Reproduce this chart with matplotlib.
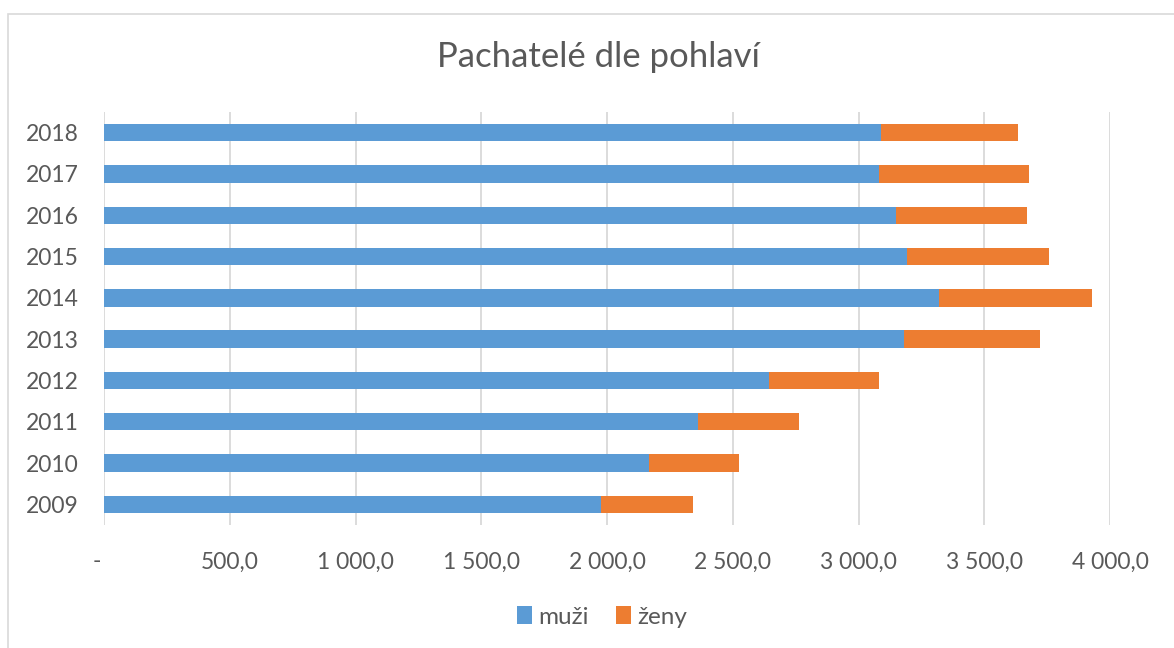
import matplotlib
matplotlib.use("Agg")
import matplotlib.pyplot as plt
from matplotlib.patches import Rectangle
from matplotlib.ticker import FuncFormatter
from matplotlib.transforms import ScaledTranslation

years = ["2009", "2010", "2011", "2012", "2013", "2014", "2015", "2016", "2017", "2018"]
muzi = [1975, 2166, 2360, 2645, 3180, 3319, 3191, 3150, 3083, 3091]
zeny = [366, 360, 402, 438, 540, 609, 568, 518, 593, 543]
title = "Pachatelé dle pohlaví"
xticks = [0, 500, 1000, 1500, 2000, 2500, 3000, 3500, 4000]

plt.rcParams['font.family'] = ['Lato', 'DejaVu Sans']
txt = '#595959'
blue = '#5B9BD5'
orange = '#ED7D31'

fig = plt.figure(figsize=(11.74, 6.48), dpi=100)
ax = fig.add_axes([104/1174, 1-525/648, (1110-104)/1174, (525-112)/648])

y = list(range(len(years)))
ax.barh(y, muzi, height=0.42, color=blue, label='muži', zorder=3)
ax.barh(y, zeny, left=muzi, height=0.42, color=orange, label='ženy', zorder=3)

ax.set_xlim(0, 4000)
ax.set_ylim(-0.5, len(years) - 0.5)
ax.set_xticks(xticks)

def fmt(v, pos):
    if v == 0:
        return '-'
    return f"{v:,.1f}".replace(',', ' ').replace('.', ',')

ax.xaxis.set_major_formatter(FuncFormatter(fmt))
ax.set_yticks(y)
ax.set_yticklabels(years)
ax.grid(axis='x', color='#d9d9d9', linewidth=1.3, zorder=0)
for s in ax.spines.values():
    s.set_visible(False)
ax.tick_params(axis='both', length=0, labelsize=16.5, labelcolor=txt)
ax.tick_params(axis='x', pad=19)
ax.tick_params(axis='y', pad=18)

lbl0 = ax.xaxis.get_major_ticks()[0].label1
lbl0.set_transform(lbl0.get_transform() + ScaledTranslation(-7/100, 0, fig.dpi_scale_trans))

fig.text(598/1174, 1-57/648, title, ha='center', va='center', fontsize=25, color=txt)

leg = fig.legend(loc='center', bbox_to_anchor=(602/1174, 1-617/648), ncol=2, frameon=False,
                 fontsize=17.5, handlelength=0.65, handleheight=0.7, handletextpad=0.25,
                 columnspacing=1.1, labelcolor=txt)

fig.patches.append(Rectangle((7.5/1174, -0.01), 1.1, 1-13.5/648 + 0.01, transform=fig.transFigure,
                             fill=False, edgecolor='#d9d9d9', linewidth=1.2))

fig.savefig("out.png", dpi=100)
